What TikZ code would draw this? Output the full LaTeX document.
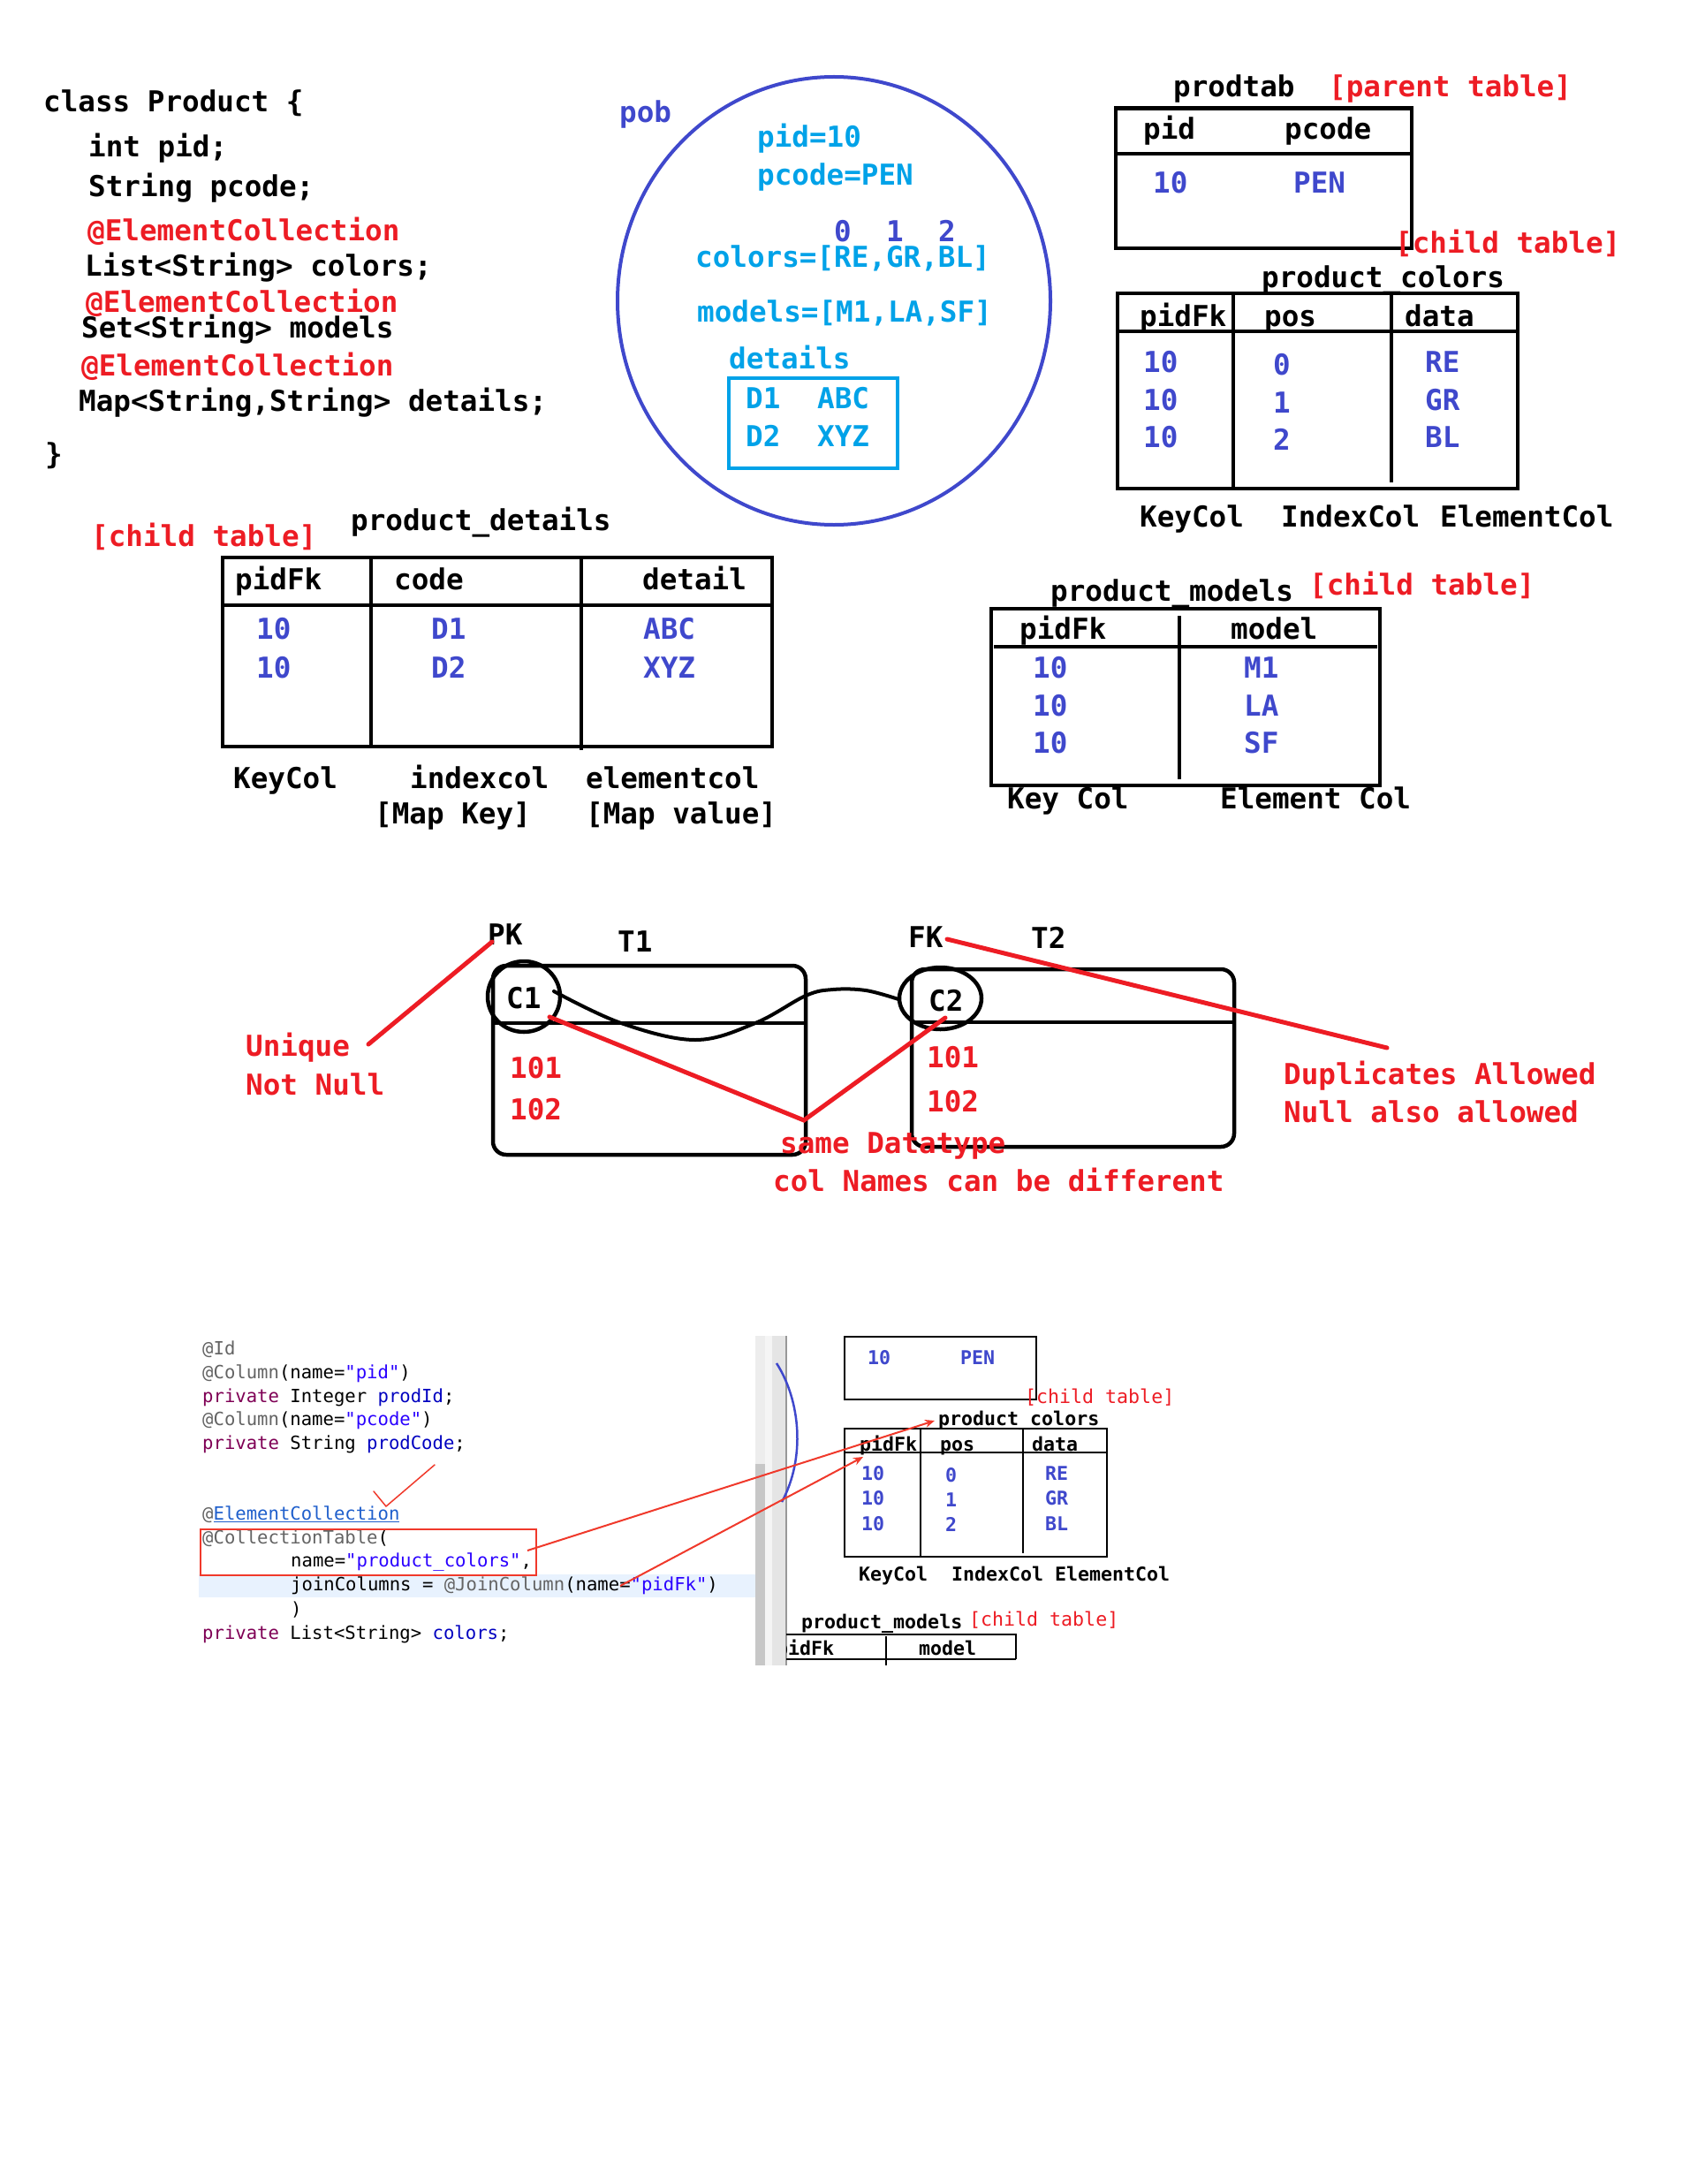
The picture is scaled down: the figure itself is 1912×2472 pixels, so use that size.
\documentclass[tikz,border=0pt]{standalone}
\usepackage{fontspec}
\usetikzlibrary{arrows.meta}
\newfontfamily\cf{DejaVu Sans Mono}
\definecolor{pred}{HTML}{ED1C24}
\definecolor{pind}{HTML}{3F48CC}
\definecolor{pcyan}{HTML}{00A2E8}
\definecolor{egray}{HTML}{646464}
\definecolor{ekey}{HTML}{7F0055}
\definecolor{efld}{HTML}{0000C0}
\definecolor{estr}{HTML}{2A00FF}
\definecolor{elink}{HTML}{1F5FCC}
\definecolor{ehl}{HTML}{E8F2FE}
\definecolor{shred}{HTML}{F0392B}
\tikzset{
  txt/.style={anchor=base west, inner sep=0pt, font=\cf\bfseries\fontsize{32.6}{39}\selectfont},
  btxt/.style={txt, text=black},
  rtxt/.style={txt, text=pred},
  itxt/.style={txt, text=pind},
  ctxt/.style={txt, text=pcyan},
  stxt/.style={anchor=base west, inner sep=0pt, font=\cf\fontsize{20.6}{25}\selectfont, text=black},
  sdtxt/.style={anchor=base west, inner sep=0pt, font=\cf\bfseries\fontsize{21.6}{26}\selectfont, text=black},
  sdi/.style={sdtxt, text=pind},
  sdr/.style={sdtxt, text=pred, font=\cf\fontsize{21.6}{26}\selectfont},
  tbl/.style={draw=black, line width=4.5pt},
  stbl/.style={draw=black, line width=2.5pt},
  rline/.style={draw=pred, line width=5pt, line cap=round},
  sarrow/.style={draw=shred, line width=2pt, -{Stealth[length=11pt,width=9pt]}}
}
\begin{document}
\begin{tikzpicture}[x=1pt,y=-1pt]
\useasboundingbox (0,0) rectangle (1912,2472);
\fill[white] (0,0) rectangle (1912,2472);

% ---------------- class code ----------------
\node[btxt] (l1) at (49,127) {class Product \{};
\node[btxt] (l2) at (100,178) {int pid;};
\node[btxt] (l3) at (100,223) {String pcode;};
\node[rtxt] (l4) at (99,273) {@ElementCollection};
\node[btxt] (l5) at (96,313) {List<String> colors;};
\node[rtxt] (l6) at (97,353) {@ElementCollection};
\node[btxt] (l7) at (92,382) {Set<String> models};
\node[rtxt] (l8) at (92,425) {@ElementCollection};
\node[btxt] (l9) at (89,465) {Map<String,String> details;};
\node[btxt] (l10) at (51,525) {\}};

% ---------------- object circle ----------------
\draw[pind, line width=4pt] (944,340.5) ellipse (245 and 253.5);
\node[itxt] (pob) at (701,139) {pob};
\node[ctxt] (opid) at (857,167) {pid=10};
\node[ctxt] (opcode) at (857,210) {pcode=PEN};
\node[itxt] (ix0) at (944,274) {0};
\node[itxt] (ix1) at (1003,274) {1};
\node[itxt] (ix2) at (1062,274) {2};
\node[ctxt] (ocol) at (787,303) {colors=[RE,GR,BL]};
\node[ctxt] (omod) at (789,364) {models=[M1,LA,SF]};
\node[ctxt] (odet) at (825,417) {details};
\draw[pcyan, line width=4pt] (825,428) rectangle (1016,530);
\node[ctxt] (od1) at (844,462) {D1};
\node[ctxt] (oabc) at (925,462) {ABC};
\node[ctxt] (od2) at (844,505) {D2};
\node[ctxt] (oxyz) at (925,505) {XYZ};

% ---------------- prodtab ----------------
\node[btxt] (ptname) at (1328,110) {prodtab};
\node[rtxt] (ptpar) at (1504,110) {[parent table]};
\draw[tbl] (1263,122.5) rectangle (1598,281);
\draw[tbl] (1263,174) -- (1598,174);
\node[btxt] (pth1) at (1294,158) {pid};
\node[btxt] (pth2) at (1454,158) {pcode};
\node[itxt] (ptv1) at (1305,219) {10};
\node[itxt] (ptv2) at (1464,219) {PEN};

% ---------------- product_colors ----------------
\node[rtxt] (pcchild) at (1579,287) {[child table]};
\node[btxt] (pcname) at (1428,326) {product\_colors};
\draw[tbl] (1265,332) rectangle (1718,553);
\draw[tbl] (1265,375) -- (1718,375);
\draw[tbl] (1396,332) -- (1396,553);
\draw[tbl] (1575,332) -- (1575,546);
\node[btxt] (pch1) at (1290,369) {pidFk};
\node[btxt] (pch2) at (1431,369) {pos};
\node[btxt] (pch3) at (1590,369) {data};
\node[itxt] (pca1) at (1294,421) {10};
\node[itxt] (pca2) at (1294,464) {10};
\node[itxt] (pca3) at (1294,506) {10};
\node[itxt] (pcb1) at (1441,424) {0};
\node[itxt] (pcb2) at (1441,467) {1};
\node[itxt] (pcb3) at (1441,509) {2};
\node[itxt] (pcc1) at (1613,421) {RE};
\node[itxt] (pcc2) at (1613,464) {GR};
\node[itxt] (pcc3) at (1613,506) {BL};
\node[btxt] (pcf1) at (1290,596) {KeyCol};
\node[btxt] (pcf2) at (1450,596) {IndexCol};
\node[btxt] (pcf3) at (1630,596) {ElementCol};

% ---------------- product_details ----------------
\node[rtxt] (pdchild) at (103,618) {[child table]};
\node[btxt] (pdname) at (397,600) {product\_details};
\draw[tbl] (252,631) rectangle (874,845);
\draw[tbl] (252,685) -- (874,685);
\draw[tbl] (420,631) -- (420,845);
\draw[tbl] (658,631) -- (658,849);
\node[btxt] (pdh1) at (266,667) {pidFk};
\node[btxt] (pdh2) at (446,667) {code};
\node[btxt] (pdh3) at (727,667) {detail};
\node[itxt] (pda1) at (290,723) {10};
\node[itxt] (pda2) at (290,767) {10};
\node[itxt] (pdb1) at (488,723) {D1};
\node[itxt] (pdb2) at (488,767) {D2};
\node[itxt] (pdc1) at (728,723) {ABC};
\node[itxt] (pdc2) at (728,767) {XYZ};
\node[btxt] (pdf1) at (264,892) {KeyCol};
\node[btxt] (pdf2) at (464,892) {indexcol};
\node[btxt] (pdf3) at (663,892) {elementcol};
\node[btxt] (pdg2) at (424,932) {[Map Key]};
\node[btxt] (pdg3) at (663,932) {[Map value]};

% ---------------- product_models ----------------
\node[btxt] (pmname) at (1189,680) {product\_models};
\node[rtxt] (pmchild) at (1482,673) {[child table]};
\draw[tbl] (1122,689) rectangle (1562,889);
\draw[tbl] (1125,732) -- (1559,732);
\draw[tbl] (1335,697) -- (1335,882);
\node[btxt] (pmh1) at (1154,723) {pidFk};
\node[btxt] (pmh2) at (1393,723) {model};
\node[itxt] (pma1) at (1169,767) {10};
\node[itxt] (pma2) at (1169,810) {10};
\node[itxt] (pma3) at (1169,852) {10};
\node[itxt] (pmb1) at (1408,767) {M1};
\node[itxt] (pmb2) at (1408,810) {LA};
\node[itxt] (pmb3) at (1408,852) {SF};
\node[btxt] (pmf1) at (1140,915) {Key Col};
\node[btxt] (pmf2) at (1381,915) {Element Col};

% ---------------- PK / FK diagram ----------------
\node[btxt] (pk) at (552,1069) {PK};
\node[btxt] (t1) at (699,1077) {T1};
\node[btxt] (fk) at (1028,1072) {FK};
\node[btxt] (t2) at (1167,1073) {T2};
\draw[tbl, rounded corners=15pt] (558,1093) rectangle (912,1307);
\draw[tbl] (558,1158) -- (912,1158);
\draw[tbl, rounded corners=15pt] (1032,1097) rectangle (1397,1298);
\draw[tbl] (1032,1157) -- (1397,1157);
\draw[black, line width=4.5pt] (593,1128) ellipse (41 and 40);
\draw[black, line width=4.5pt] (1064.5,1130) ellipse (46.5 and 35);
\node[btxt] (c1) at (573,1141) {C1};
\node[btxt] (c2) at (1051,1144) {C2};
\node[rtxt] (t1a) at (577,1220) {101};
\node[rtxt] (t1b) at (577,1267) {102};
\node[rtxt] (t2a) at (1049,1208) {101};
\node[rtxt] (t2b) at (1049,1258) {102};
\draw[black, line width=4pt, line cap=round] plot[smooth, tension=0.6] coordinates {(627,1122) (703,1158) (787,1177) (855,1158) (912,1127) (943,1120) (980,1121) (1017,1131)};
\coordinate (u1) at (417,1182);
\coordinate (u2) at (557,1066);
\coordinate (v1) at (622,1151);
\coordinate (v2) at (910,1268);
\coordinate (v3) at (1070,1152);
\coordinate (f1) at (1072,1063);
\coordinate (f2) at (1570,1186);
\draw[rline] (u1) -- (u2);
\draw[rline] (v1) -- (v2) -- (v3);
\draw[rline] (f1) -- (f2);
\node[rtxt] (uq) at (278,1195) {Unique};
\node[rtxt] (nn) at (278,1239) {Not Null};
\node[rtxt] (sd) at (883,1305) {same Datatype};
\node[rtxt] (cn) at (875,1348) {col Names can be different};
\node[rtxt] (da) at (1453,1227) {Duplicates Allowed};
\node[rtxt] (na) at (1453,1270) {Null also allowed};

% ---------------- screenshot: code ----------------
\fill[ehl] (225,1782) rectangle (855,1808);
\fill[black!7] (855,1512) rectangle (866,1885);
\fill[black!22] (855,1657) rectangle (866,1885);
\fill[black!4] (866,1512) rectangle (874,1885);
\fill[black!10] (874,1512) rectangle (890,1885);
\draw[black!40, line width=2.5pt] (890,1512) -- (890,1885);
\draw[pind, line width=2.5pt] (879,1543) .. controls (906,1585) and (912,1650) .. (885,1700);

\node[stxt] (s1) at (229,1533) {\textcolor{egray}{@Id}};
\node[stxt] (s2) at (229,1560) {\textcolor{egray}{@Column}(name=\textcolor{estr}{"pid"})};
\node[stxt] (s3) at (229,1587) {\textcolor{ekey}{private} Integer \textcolor{efld}{prodId};};
\node[stxt] (s4) at (229,1613) {\textcolor{egray}{@Column}(name=\textcolor{estr}{"pcode"})};
\node[stxt] (s5) at (229,1640) {\textcolor{ekey}{private} String \textcolor{efld}{prodCode};};
\node[stxt] (s6) at (229,1720) {\textcolor{egray}{@}\textcolor{elink}{\underline{ElementCollection}}};
\node[stxt] (s7) at (229,1747) {\textcolor{egray}{@CollectionTable}(};
\node[stxt] (s8) at (329,1773) {name=\textcolor{estr}{"product\_colors"},};
\node[stxt] (s9) at (329,1800) {joinColumns = \textcolor{egray}{@JoinColumn}(name=\textcolor{estr}{"pidFk"})};
\node[stxt] (s10) at (329,1828) {)};
\node[stxt] (s11) at (229,1855) {\textcolor{ekey}{private} List<String> \textcolor{efld}{colors};};
\draw[shred, line width=1.5pt, line cap=round, line join=round] (423,1688) -- (437,1705) -- (492,1658);
\draw[shred, line width=2pt] (227,1731) rectangle (607,1783);

% ---------------- screenshot: tables ----------------
\draw[stbl] (956,1513) rectangle (1173,1584);
\node[sdi] (sv1) at (982,1544) {10};
\node[sdi] (sv2) at (1087,1544) {PEN};
\node[sdr] (schild) at (1160,1588) {[child table]};
\node[sdtxt] (scname) at (1062,1613) {product\_colors};
\draw[stbl] (956,1617) rectangle (1253,1762);
\draw[stbl] (956,1644) -- (1253,1644);
\draw[stbl] (1042,1617) -- (1042,1762);
\draw[stbl] (1158,1617) -- (1158,1758);
\node[sdtxt] (sh1) at (973,1642) {pidFk};
\node[sdtxt] (sh2) at (1064,1642) {pos};
\node[sdtxt] (sh3) at (1168,1642) {data};
\node[sdi] (sa1) at (975,1675) {10};
\node[sdi] (sa2) at (975,1703) {10};
\node[sdi] (sa3) at (975,1732) {10};
\node[sdi] (sb1) at (1070,1677) {0};
\node[sdi] (sb2) at (1070,1705) {1};
\node[sdi] (sb3) at (1070,1733) {2};
\node[sdi] (sc1) at (1183,1675) {RE};
\node[sdi] (sc2) at (1183,1703) {GR};
\node[sdi] (sc3) at (1183,1732) {BL};
\node[sdtxt] (sf1) at (972,1789) {KeyCol};
\node[sdtxt] (sf2) at (1077,1789) {IndexCol};
\node[sdtxt] (sf3) at (1194,1789) {ElementCol};
\node[sdtxt] (smname) at (907,1843) {product\_models};
\node[sdr] (smchild) at (1097,1840) {[child table]};
\draw[stbl] (890,1850) -- (1150,1850) -- (1150,1878);
\draw[stbl] (890,1878) -- (1150,1878);
\draw[stbl] (1003,1852) -- (1003,1885);
\begin{scope}
\clip (890,1850) rectangle (1010,1885);
\node[sdtxt] (smh1) at (879,1873) {pidFk};
\end{scope}
\node[sdtxt] (smh2) at (1040,1873) {model};

\coordinate (a1s) at (597,1755);
\coordinate (a1e) at (1058,1608);
\coordinate (a2s) at (702,1795);
\coordinate (a2e) at (977,1649);
\draw[sarrow] (a1s) -- (a1e);
\draw[sarrow] (a2s) -- (a2e);
\end{tikzpicture}
\end{document}
